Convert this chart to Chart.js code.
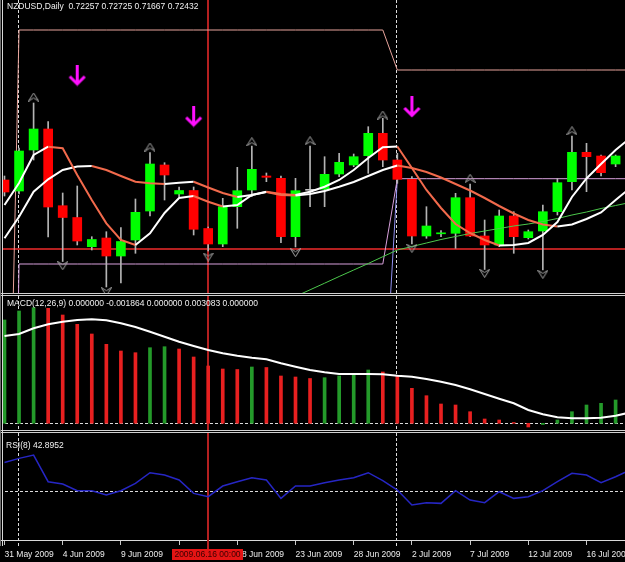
<!DOCTYPE html>
<html><head><meta charset="utf-8">
<script src="https://cdn.jsdelivr.net/npm/chart.js@4.4.1/dist/chart.umd.min.js"></script>
<style>
html,body{margin:0;padding:0;background:#000;width:625px;height:562px;overflow:hidden;}
#wrap{position:relative;width:625px;height:562px;background:#000;}
canvas{position:absolute;left:0;display:block;}
.hl{position:absolute;left:0;width:625px;height:1px;background:#d0d0d0;}
.vl{position:absolute;top:0;width:1px;background:#d8d8d8;}
.lbl{position:absolute;color:#f0f0f0;font:8.5px "Liberation Sans",Arial,sans-serif;white-space:pre;line-height:10px;}
</style></head><body>
<div id="wrap">
<canvas id="main" width="625" height="293" style="top:0px"></canvas>
<canvas id="macd" width="625" height="134" style="top:296px"></canvas>
<canvas id="rsi" width="625" height="129" style="top:433px"></canvas>
<div style="position:absolute;left:0;top:0;width:3px;height:540px;background:#000"></div>
<div class="hl" style="top:293px"></div>
<div class="hl" style="top:295px"></div>
<div class="hl" style="top:430px"></div>
<div class="hl" style="top:432px"></div>
<div class="vl" style="left:0px;height:546px;background:#707070"></div>
<div class="vl" style="left:2px;height:546px"></div>
<div class="lbl" style="left:7px;top:1px">NZDUSD,Daily  0.72257 0.72725 0.71667 0.72432</div>
<div class="lbl" style="left:7px;top:298px">MACD(12,26,9) 0.000000 -0.001864 0.000000 0.003083 0.000000</div>
<div class="lbl" style="left:6px;top:440px">RSI(8) 42.8952</div>
</div>
<script>
// ---------- data ----------
const tickIndex = [0,4,8,12,16,20,24,28,32,36,40];
const tickLabels = ['31 May 2009','4 Jun 2009','9 Jun 2009','14 Jun 2009','18 Jun 2009','23 Jun 2009','28 Jun 2009','2 Jul 2009','7 Jul 2009','12 Jul 2009','16 Jul 2009'];

const openP  = [0.63200,0.63090,0.63500,0.63710,0.62943,0.62825,0.62533,0.62620,0.62440,0.62600,0.62890,0.63350,0.63060,0.63095,0.62715,0.62560,0.62933,0.63100,0.63240,0.63217,0.62633,0.63097,0.63107,0.63260,0.63350,0.63443,0.63667,0.63400,0.63207,0.62640,0.62662,0.62667,0.63023,0.62640,0.62550,0.62840,0.62623,0.62690,0.62883,0.63183,0.63477,0.63440,0.63360];
const highP  = [0.63240,0.63520,0.63970,0.63783,0.63070,0.63140,0.62633,0.62683,0.62725,0.63010,0.63475,0.63373,0.63130,0.63130,0.62730,0.63017,0.63327,0.63540,0.63270,0.63240,0.63217,0.63540,0.63433,0.63467,0.63460,0.63733,0.63817,0.63467,0.63233,0.62933,0.62693,0.63067,0.63160,0.62800,0.62900,0.62883,0.62700,0.62950,0.63217,0.63640,0.63567,0.63450,0.63450];
const lowP   = [0.63040,0.63060,0.63400,0.62630,0.62385,0.62550,0.62500,0.62130,0.62170,0.62467,0.62840,0.63000,0.63033,0.62650,0.62490,0.62533,0.62717,0.63033,0.63183,0.62573,0.62530,0.62933,0.62933,0.63233,0.63333,0.63267,0.63333,0.63167,0.62560,0.62617,0.62633,0.62517,0.62633,0.62305,0.62533,0.62467,0.62610,0.62300,0.62850,0.63100,0.63083,0.63240,0.63333];
const closeP = [0.63080,0.63490,0.63710,0.62930,0.62825,0.62590,0.62605,0.62440,0.62585,0.62877,0.63360,0.63250,0.63095,0.62707,0.62560,0.62933,0.63093,0.63307,0.63227,0.62633,0.63093,0.63097,0.63257,0.63377,0.63433,0.63667,0.63400,0.63207,0.62640,0.62740,0.62672,0.63023,0.62640,0.62550,0.62840,0.62633,0.62683,0.62883,0.63173,0.63477,0.63433,0.63273,0.63440];

const maFast = [0.62950,0.63170,0.63450,0.63533,0.63517,0.63250,0.63000,0.62767,0.62600,0.62550,0.62667,0.62870,0.63020,0.63040,0.62983,0.62935,0.62950,0.63050,0.63083,0.63060,0.63050,0.63083,0.63133,0.63200,0.63300,0.63420,0.63527,0.63535,0.63320,0.63100,0.62920,0.62760,0.62670,0.62600,0.62545,0.62550,0.62570,0.62650,0.62780,0.63030,0.63215,0.63360,0.63500,0.63620];
const maSlow = [0.62617,0.62833,0.63083,0.63207,0.63300,0.63335,0.63340,0.63300,0.63240,0.63183,0.63167,0.63160,0.63172,0.63183,0.63125,0.63070,0.63030,0.63050,0.63080,0.63050,0.63045,0.63060,0.63090,0.63133,0.63180,0.63240,0.63300,0.63345,0.63320,0.63280,0.63225,0.63160,0.63095,0.63020,0.62940,0.62865,0.62800,0.62755,0.62735,0.62755,0.62810,0.62875,0.63000,0.63120];
const maLong = [null,null,null,null,null,null,null,null,null,null,null,null,null,null,null,null,null,null,null,0.61970,0.62036,0.62102,0.62168,0.62235,0.62300,0.62365,0.62433,0.62500,0.62535,0.62570,0.62605,0.62635,0.62665,0.62690,0.62715,0.62740,0.62760,0.62785,0.62815,0.62850,0.62880,0.62915,0.62945,0.62975];
const chanHigh = [0.58000,0.64700,0.64700,0.64700,0.64700,0.64700,0.64700,0.64700,0.64700,0.64700,0.64700,0.64700,0.64700,0.64700,0.64700,0.64700,0.64700,0.64700,0.64700,0.64700,0.64700,0.64700,0.64700,0.64700,0.64700,0.64700,0.64700,0.64300,0.64300,0.64300,0.64300,0.64300,0.64300,0.64300,0.64300,0.64300,0.64300,0.64300,0.64300,0.64300,0.64300,0.64300,0.64300,0.64300];
const chanLow  = [0.54000,0.62360,0.62360,0.62360,0.62360,0.62360,0.62360,0.62360,0.62360,0.62360,0.62360,0.62360,0.62360,0.62360,0.62360,0.62360,0.62360,0.62360,0.62360,0.62360,0.62360,0.62360,0.62360,0.62360,0.62360,0.62360,0.62360,0.63213,0.63213,0.63213,0.63213,0.63213,0.63213,0.63213,0.63213,0.63213,0.63213,0.63213,0.63213,0.63213,0.63213,0.63213,0.63213,0.63213];
const jumpIdx = [26,27];
const jumpVal = [0.60730,0.63210];

const upFractalIdx = [2,10,17,21,26,32,39];
const upFractalVal = [0.64030,0.63530,0.63583,0.63593,0.63850,0.63217,0.63693];
const downFractalIdx = [4,7,14,20,28,33,37];
const downFractalVal = [0.62343,0.62083,0.62430,0.62473,0.62517,0.62267,0.62257];
const signalIdx = [5,13,28];
const signalVal = [0.64245,0.63835,0.63930];

const macdHist = [0.005165,0.005615,0.00578,0.00575,0.005415,0.00495,0.004465,0.00395,0.003615,0.00353,0.00378,0.00383,0.003715,0.003315,0.002865,0.002715,0.00269,0.002815,0.00279,0.002365,0.002315,0.00224,0.00228,0.002365,0.002415,0.002665,0.002565,0.0024,0.00175,0.00138,0.000965,0.000915,0.00058,0.000215,0.000165,0.00004,-0.000185,-0.00006,0.000165,0.00058,0.000915,0.001,0.001165];
const macdSignal = [0.004365,0.004465,0.00475,0.00495,0.00508,0.005165,0.0052,0.00515,0.005,0.004815,0.00458,0.00433,0.00408,0.003865,0.003665,0.0035,0.00338,0.00328,0.0032,0.003,0.00283,0.002665,0.00255,0.002465,0.002465,0.002465,0.00245,0.00238,0.00233,0.002215,0.00208,0.001915,0.0017,0.001465,0.00123,0.001,0.000665,0.00045,0.0003,0.00025,0.00025,0.00028,0.00038,0.00054];
const rsiVals = [66.9,69.4,71.4,55.4,54.0,50.0,50.0,47.4,50.0,54.4,60.8,59.4,56.4,48.4,46.4,52.8,55.4,57.8,56.4,45.4,52.8,52.8,54.8,56.4,57.8,60.8,56.0,50.4,41.4,42.8,42.4,50.0,44.4,42.8,49.4,45.4,46.4,50.0,55.4,60.4,59.4,54.8,58.4,62.4];

const separatorIdx = [1,27];
const crossIdx = 14;
const crossPrice = 0.62507;
const crossLabel = '2009.06.16 00:00';
const macdLevel = 0;
const rsiLevel = 50;

// ---------- styles ----------
const X_MIN = -0.309, X_MAX = 42.646;
const UP_COL = '#00ff00', DN_COL = '#ff0000', DOJI_COL = '#c0c0c0', WICK_COL = '#b4b4b4';
const MA_UP = '#ffffff', MA_DN = '#f26a4c';
const CROSS_COL = '#b42020';
const FONT = 'Liberation Sans';

function xy(arr){ return arr.map((v,i)=>({x:i,y:v})).filter(p=>p.y!==null); }
function pairs(idx, vals){ return idx.map((v,k)=>({x:v,y:vals[k]})); }

function makeIcon(w,h,draw){ const c=document.createElement('canvas'); c.width=w; c.height=h; draw(c.getContext('2d')); return c; }
const upIcon = makeIcon(11,9,g=>{ g.strokeStyle='#a8a8a8'; g.lineWidth=1; g.beginPath(); g.moveTo(0.5,8.5); g.lineTo(5.5,0.5); g.lineTo(10.5,8.5); g.lineTo(5.5,5.5); g.closePath(); g.stroke(); });
const dnIcon = makeIcon(11,9,g=>{ g.strokeStyle='#a8a8a8'; g.lineWidth=1; g.beginPath(); g.moveTo(0.5,0.5); g.lineTo(5.5,8.5); g.lineTo(10.5,0.5); g.lineTo(5.5,3.5); g.closePath(); g.stroke(); });
const arrowIcon = makeIcon(19,22,g=>{ g.strokeStyle='#ff10ff'; g.lineWidth=3; g.beginPath(); g.moveTo(9.5,0); g.lineTo(9.5,19); g.stroke(); g.beginPath(); g.moveTo(2,12); g.lineTo(9.5,19.5); g.lineTo(17,12); g.stroke(); });

function xScale(extra){ return Object.assign({type:'linear', min:X_MIN, max:X_MAX, offset:false, display:false, grid:{offset:false}}, extra||{}); }

function guides(opts){
  return {
    id:'guides'+opts.name,
    beforeDatasetsDraw(chart){
      const {ctx, chartArea:a, scales:{x,y}} = chart;
      ctx.save();
      ctx.lineWidth = 1;
      ctx.strokeStyle = '#dcdcdc';
      ctx.setLineDash([3,2]);
      separatorIdx.forEach(i=>{ const px=Math.round(x.getPixelForValue(i))-0.5; ctx.beginPath(); ctx.moveTo(px,a.top); ctx.lineTo(px,a.bottom+(opts.extra||0)); ctx.stroke(); });
      if (opts.level!==undefined){ const py=Math.round(y.getPixelForValue(opts.level))+0.5; ctx.beginPath(); ctx.moveTo(a.left,py); ctx.lineTo(a.right,py); ctx.stroke(); }
      ctx.setLineDash([]);
      ctx.strokeStyle = CROSS_COL;
      ctx.lineWidth = 2;
      const cx=Math.round(x.getPixelForValue(crossIdx));
      ctx.beginPath(); ctx.moveTo(cx,a.top); ctx.lineTo(cx,a.bottom+(opts.crossExtra||0)); ctx.stroke();
      if (opts.crossY!==undefined){ const py=Math.round(y.getPixelForValue(opts.crossY)); ctx.beginPath(); ctx.moveTo(a.left,py); ctx.lineTo(a.right,py); ctx.stroke(); }
      ctx.restore();
    }
  };
}

const common = {responsive:false, animation:false, devicePixelRatio:1, events:[], layout:{padding:0, autoPadding:false},
  plugins:{legend:{display:false}, tooltip:{enabled:false}}};

// ---------- main price chart ----------
const bodyColors = openP.map((o,i)=> closeP[i]>o ? UP_COL : (closeP[i]<o ? DN_COL : DOJI_COL));
const maSegment = {borderColor: c => c.p1.parsed.y >= c.p0.parsed.y ? MA_UP : MA_DN};

new Chart(document.getElementById('main'), {
  type:'line',
  data:{datasets:[
    {type:'line', data:pairs(signalIdx,signalVal), showLine:false, pointStyle:arrowIcon, pointRadius:5, order:-3},
    {type:'line', data:pairs(upFractalIdx,upFractalVal), showLine:false, pointStyle:upIcon, pointRadius:5, order:-2},
    {type:'line', data:pairs(downFractalIdx,downFractalVal), showLine:false, pointStyle:dnIcon, pointRadius:5, order:-2},
    {type:'line', data:xy(maFast), borderWidth:2, borderColor:MA_UP, segment:maSegment, pointRadius:0, tension:0, order:0},
    {type:'line', data:xy(maSlow), borderWidth:2, borderColor:MA_UP, segment:maSegment, pointRadius:0, tension:0, order:0},
    {type:'line', data:xy(maLong), borderWidth:1, borderColor:'#4cc84c', pointRadius:0, tension:0, order:1},
    {type:'bar', data:openP.map((o,i)=>({x:i,y:[Math.min(o,closeP[i]),Math.max(o,closeP[i])]})), backgroundColor:bodyColors, barThickness:9, minBarLength:1, grouped:false, borderWidth:0, order:2},
    {type:'bar', data:openP.map((o,i)=>({x:i,y:[lowP[i],highP[i]]})), backgroundColor:WICK_COL, barThickness:1, grouped:false, borderWidth:0, order:3},
    {type:'line', data:xy(chanHigh), borderWidth:1, borderColor:'#e8a49c', pointRadius:0, tension:0, order:4},
    {type:'line', data:xy(chanLow), borderWidth:1, borderColor:'#d8a0dc', pointRadius:0, tension:0, order:4},
    {type:'line', data:pairs(jumpIdx,jumpVal), borderWidth:1, borderColor:'#9090f0', pointRadius:0, tension:0, order:5}
  ]},
  options:Object.assign({}, common, {scales:{x:xScale(), y:{type:'linear', min:0.6207, max:0.65, display:false}}}),
  plugins:[guides({name:'m', crossY:crossPrice})]
});

// ---------- MACD ----------
const histColors = macdHist.map((v,i)=> (i===0 || v>macdHist[i-1]) ? '#249a2a' : '#e82020');
new Chart(document.getElementById('macd'), {
  type:'line',
  data:{datasets:[
    {type:'line', data:xy(macdSignal), borderWidth:2, borderColor:'#ffffff', pointRadius:0, tension:0, order:0},
    {type:'bar', data:xy(macdHist), backgroundColor:histColors, barThickness:3, grouped:false, borderWidth:0, order:1}
  ]},
  options:Object.assign({}, common, {scales:{x:xScale(), y:{type:'linear', min:-0.000335, max:0.006365, display:false}}}),
  plugins:[guides({name:'d', level:macdLevel})]
});

// ---------- RSI + time axis ----------
const crossBox = {
  id:'crossBox',
  afterDraw(chart){
    const {ctx, scales:{x}} = chart;
    const cx = x.getPixelForValue(crossIdx);
    ctx.save();
    ctx.fillStyle = '#e41414';
    ctx.fillRect(Math.round(cx)-36, 116, 71, 11);
    ctx.fillStyle = '#3a0000';
    ctx.font = '8.5px "'+FONT+'"';
    ctx.textAlign = 'center'; ctx.textBaseline = 'middle';
    ctx.fillText(crossLabel, Math.round(cx)-0.5, 121.5);
    ctx.restore();
  }
};
new Chart(document.getElementById('rsi'), {
  type:'line',
  data:{datasets:[
    {type:'line', data:xy(rsiVals), borderWidth:1.5, borderColor:'#2626c4', pointRadius:0, tension:0}
  ]},
  options:Object.assign({}, common, {scales:{
    x:xScale({display:true, position:'bottom',
      grid:{offset:false, display:true, drawOnChartArea:false, drawTicks:true, tickLength:5, color:'#c8c8c8'},
      border:{display:true, color:'#d8d8d8', width:1},
      ticks:{autoSkip:false, maxRotation:0, minRotation:0, align:'start', padding:5, color:'#ececec', font:{family:FONT, size:8.5},
        callback:(v)=>{ const k=tickIndex.indexOf(v); return k>=0 ? tickLabels[k] : ''; }},
      afterBuildTicks:(s)=>{ s.ticks = tickIndex.map(v=>({value:v})); },
      afterFit:(s)=>{ s.height = 22; s.paddingLeft = 0; s.paddingRight = 0; }
    }),
    y:{type:'linear', min:20.42, max:84.62, display:false}
  }}),
  plugins:[guides({name:'r', level:rsiLevel, extra:6, crossExtra:9}), crossBox]
});
</script>
</body></html>
